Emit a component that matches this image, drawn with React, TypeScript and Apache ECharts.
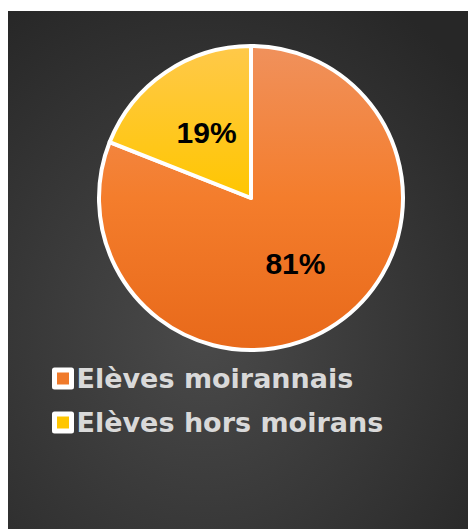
import React, { useEffect, useRef } from "react";
import * as echarts from "echarts";

const categories = ["Elèves moirannais", "Elèves hors moirans"];
const values = [81, 19];
const labels = ["81%", "19%"];
const topColors = ["#F0915C", "#FFC94A"];
const midColors = ["#F47D2C", "#FFC600"];
const bottomColors = ["#E8691A", "#E0AC00"];
const legendColors = ["#F07A2A", "#FFC600"];

export default function App() {
  const ref = useRef<HTMLDivElement>(null);
  useEffect(() => {
    if (!ref.current) return;
    const chart = echarts.init(ref.current, null, { renderer: "svg" });
    const cy = 190;
    const r = 152;
    chart.setOption({
      animation: false,
      graphic: [
        {
          type: "rect",
          z: -10,
          silent: true,
          shape: { x: 0, y: 3, width: 468, height: 518 },
          style: {
            fill: new echarts.graphic.RadialGradient(0.42, 0.62, 0.75, [
              { offset: 0, color: "#4a4a4a" },
              { offset: 1, color: "#272727" },
            ]),
          },
        },
      ],
      legend: {
        orient: "vertical",
        left: 44,
        top: 357,
        padding: 0,
        icon: "rect",
        itemWidth: 17,
        itemHeight: 17,
        itemGap: 17,
        textStyle: {
          color: "#d9d9d9",
          fontSize: 27,
          fontWeight: "bold",
          fontFamily: "DejaVu Sans, sans-serif",
        },
        data: categories.map((c, i) => ({
          name: c,
          itemStyle: { color: legendColors[i], borderColor: "#ffffff", borderWidth: 5 },
        })),
      },
      series: [
        {
          type: "pie",
          center: [243, cy],
          radius: [0, r],
          startAngle: 90,
          clockwise: true,
          label: {
            show: true,
            position: "inside",
            color: "#000",
            fontSize: 30,
            fontWeight: "bold",
            fontFamily: "Liberation Sans, Arial, sans-serif",
            formatter: (p: any) => labels[p.dataIndex],
          },
          labelLine: { show: false },
          emphasis: { disabled: true },
          data: categories.map((c, i) => ({
            name: c,
            value: values[i],
            itemStyle: {
              borderColor: "#ffffff",
              borderWidth: 4,
              color: new echarts.graphic.LinearGradient(
                0, cy - r, 0, cy + r,
                [
                  { offset: 0, color: topColors[i] },
                  { offset: 0.5, color: midColors[i] },
                  { offset: 1, color: bottomColors[i] },
                ],
                true
              ),
            },
          })),
        },
      ],
    });
    return () => chart.dispose();
  }, []);
  return <div ref={ref} style={{ width: 468, height: 521 }} />;
}
